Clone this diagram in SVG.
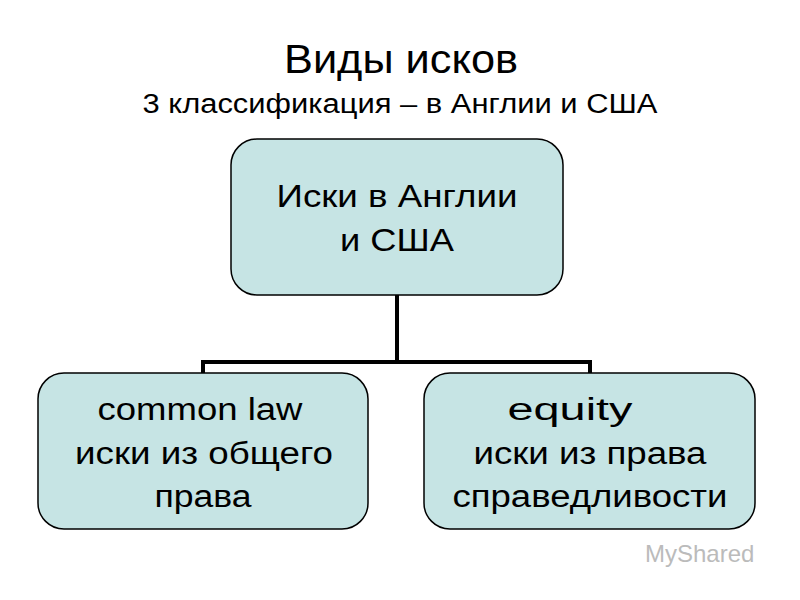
<svg xmlns="http://www.w3.org/2000/svg" width="800" height="600" viewBox="0 0 800 600">
<style>
.box{fill:#c6e4e4;stroke:#000;stroke-width:1.5}
.t{font-family:"Liberation Sans",Arial,sans-serif;fill:#000;text-anchor:middle}
.c{stroke:#000;stroke-width:4;fill:none}
</style>
<rect width="800" height="600" fill="#fff"/>
<text class="t" x="401" y="73" font-size="40" textLength="234" lengthAdjust="spacingAndGlyphs">Виды исков</text>
<text class="t" x="400" y="113" font-size="27" textLength="515" lengthAdjust="spacingAndGlyphs">3 классификация – в Англии и США</text>
<g id="connectors">
<path class="c" d="M397 295V362M203 374V362H590V374"/>
</g>
<g id="root">
<rect class="box" x="231" y="139" width="332" height="156" rx="26"/>
<text class="t" x="397" y="207" font-size="32" textLength="241" lengthAdjust="spacingAndGlyphs">Иски в Англии</text>
<text class="t" x="397" y="251" font-size="32" textLength="114" lengthAdjust="spacingAndGlyphs">и США</text>
</g>
<g id="common">
<rect class="box" x="38" y="373" width="330" height="156" rx="26"/>
<text class="t" x="200" y="420" font-size="31" textLength="205" lengthAdjust="spacingAndGlyphs">common law</text>
<text class="t" x="204" y="464" font-size="31" textLength="258" lengthAdjust="spacingAndGlyphs">иски из общего</text>
<text class="t" x="203" y="507" font-size="31" textLength="97" lengthAdjust="spacingAndGlyphs">права</text>
</g>
<g id="equity">
<rect class="box" x="424" y="373" width="331" height="156" rx="26"/>
<text class="t" x="570" y="420" font-size="31" textLength="125" lengthAdjust="spacingAndGlyphs">equity</text>
<text class="t" x="590" y="464" font-size="31" textLength="233" lengthAdjust="spacingAndGlyphs">иски из права</text>
<text class="t" x="590" y="507" font-size="31" textLength="275" lengthAdjust="spacingAndGlyphs">справедливости</text>
</g>
<text x="645" y="562" font-family="Liberation Sans,Arial,sans-serif" font-size="24" fill="#bbb">MyShared</text>
</svg>
